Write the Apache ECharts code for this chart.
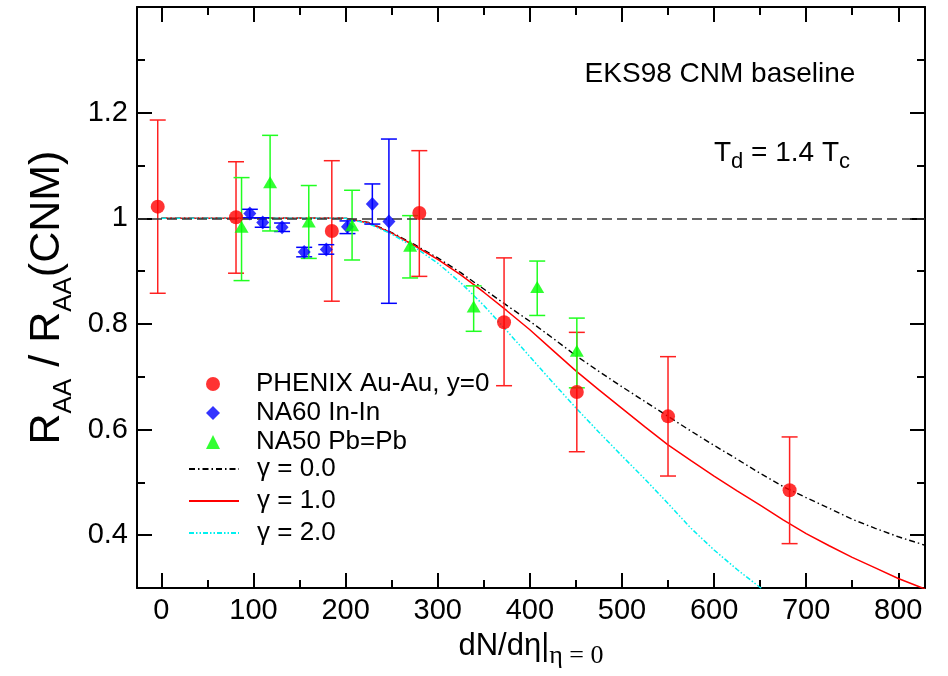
<!DOCTYPE html>
<html><head><meta charset="utf-8">
<script src="https://cdn.jsdelivr.net/npm/echarts@6/dist/echarts.min.js"></script>
<style>html,body{margin:0;padding:0;background:#fff}#c{width:948px;height:676px}</style>
</head><body><div id="c"></div>
<script>
// ---- axis ticks ----
const xTicks = [0, 100, 200, 300, 400, 500, 600, 700, 800];
const xMinorTicks = [50, 150, 250, 350, 450, 550, 650, 750];
const yTicks = [0.4, 0.6, 0.8, 1.0, 1.2];
const yMinorTicks = [0.5, 0.7, 0.9, 1.1, 1.3];

// ---- PHENIX Au-Au, y=0 ----
const phenixX  = [-4, 81, 185, 280, 372, 451, 550, 682];
const phenixY  = [1.022, 1.002, 0.976, 1.010, 0.803, 0.671, 0.625, 0.485];
const phenixLo = [0.858, 0.896, 0.843, 0.890, 0.683, 0.558, 0.512, 0.384];
const phenixHi = [1.186, 1.107, 1.109, 1.128, 0.925, 0.784, 0.738, 0.586];

// ---- NA60 In-In ----
const na60X  = [96, 110, 131, 155, 179, 202, 229, 247];
const na60Y  = [1.009, 0.992, 0.983, 0.936, 0.941, 0.984, 1.027, 0.994];
const na60Lo = [1.001, 0.983, 0.975, 0.927, 0.932, 0.971, 0.989, 0.839];
const na60Hi = [1.017, 1.001, 0.991, 0.945, 0.950, 0.995, 1.065, 1.150];

// ---- NA50 Pb=Pb ----
const na50X  = [87, 118, 160, 207, 270, 339, 408, 451];
const na50Y  = [0.984, 1.068, 0.994, 0.987, 0.948, 0.833, 0.870, 0.749];
const na50Lo = [0.882, 0.976, 0.924, 0.921, 0.887, 0.786, 0.816, 0.679];
const na50Hi = [1.077, 1.157, 1.062, 1.053, 1.005, 0.872, 0.919, 0.811];

// ---- model curves ----
const curveX = [0, 50, 100, 150, 200, 225, 250, 275, 300, 325, 350, 375, 400, 425, 450, 475, 500, 525, 550, 575, 600, 625, 650, 675, 700, 725, 750, 775, 800, 829];
const gamma0 = [1, 1, 1, 1, 1, 0.992, 0.973, 0.950, 0.925, 0.897, 0.866, 0.835, 0.805, 0.773, 0.740, 0.710, 0.681, 0.653, 0.625, 0.597, 0.570, 0.544, 0.517, 0.492, 0.471, 0.451, 0.430, 0.413, 0.397, 0.381];
const gamma1 = [1, 1, 1, 1, 1, 0.991, 0.972, 0.948, 0.922, 0.893, 0.860, 0.825, 0.789, 0.750, 0.711, 0.675, 0.640, 0.605, 0.571, 0.541, 0.512, 0.484, 0.457, 0.429, 0.403, 0.380, 0.358, 0.338, 0.318, 0.298];
const gamma2 = [1, 1, 1, 1, 1, 0.990, 0.970, 0.945, 0.915, 0.878, 0.835, 0.787, 0.738, 0.689, 0.641, 0.595, 0.550, 0.506, 0.460, 0.413, 0.372, 0.335, 0.301, 0.270];
const baselineY = 1;

const xMin = -26.5, xMax = 829, yMin = 0.3, yMax = 1.4;
const FONT = '"Liberation Sans", Arial, sans-serif';
const SERIF = '"Liberation Serif", "Times New Roman", serif';

const zip = (xs, ys) => ys.map((y, i) => [xs[i], y]);
const zip3 = (xs, lo, hi) => xs.map((x, i) => [x, lo[i], hi[i]]);

function errRender(color) {
  return function (params, api) {
    const x = api.value(0), lo = api.value(1), hi = api.value(2);
    const pLo = api.coord([x, lo]), pHi = api.coord([x, hi]);
    const w = 8;
    const st = { stroke: color, lineWidth: 1.5 };
    return { type: 'group', children: [
      { type: 'line', shape: { x1: pLo[0], y1: pLo[1], x2: pHi[0], y2: pHi[1] }, style: st },
      { type: 'line', shape: { x1: pLo[0] - w, y1: pLo[1], x2: pLo[0] + w, y2: pLo[1] }, style: st },
      { type: 'line', shape: { x1: pHi[0] - w, y1: pHi[1], x2: pHi[0] + w, y2: pHi[1] }, style: st }
    ]};
  };
}

const black = '#000';
const tickStyle = { color: black, width: 2 };
function xAxisDef(pos, ticks, len, main) {
  return {
    type: 'value', position: pos, min: xMin, max: xMax,
    axisLine: { show: main, onZero: false, lineStyle: { color: black, width: 2 } },
    axisTick: { show: true, inside: true, length: len, lineStyle: tickStyle, customValues: ticks },
    axisLabel: pos === 'bottom' && main
      ? { show: true, customValues: xTicks, fontSize: 29, color: black, fontFamily: FONT, margin: 8 }
      : { show: false },
    splitLine: { show: false }, minorTick: { show: false }
  };
}
function yAxisDef(pos, ticks, len, main) {
  return {
    type: 'value', position: pos, min: yMin, max: yMax,
    axisLine: { show: main, onZero: false, lineStyle: { color: black, width: 2 } },
    axisTick: { show: true, inside: true, length: len, lineStyle: tickStyle, customValues: ticks },
    axisLabel: pos === 'left' && main
      ? { show: true, customValues: yTicks, fontSize: 29, color: black, fontFamily: FONT, margin: 9 }
      : { show: false },
    splitLine: { show: false }, minorTick: { show: false }
  };
}

const xAxes = [
  xAxisDef('bottom', xTicks, 15, true),
  xAxisDef('bottom', xMinorTicks, 8, false),
  xAxisDef('top', xTicks, 15, true),
  xAxisDef('top', xMinorTicks, 8, false)
];
Object.assign(xAxes[0], {
  name: '{m|dN/dη|}{s|η = 0}', nameLocation: 'middle', nameGap: 35,
  nameTextStyle: { rich: {
    m: { fontSize: 31, fontFamily: FONT, color: black, lineHeight: 46, verticalAlign: 'middle' },
    s: { fontSize: 26, fontFamily: SERIF, color: black, lineHeight: 20, verticalAlign: 'bottom' }
  } }
});
const yAxes = [
  yAxisDef('left', yTicks, 15, true),
  yAxisDef('left', yMinorTicks, 8, false),
  yAxisDef('right', yTicks, 15, true),
  yAxisDef('right', yMinorTicks, 8, false)
];
Object.assign(yAxes[0], {
  name: '{m|R}{s|AA}{m| / R}{s|AA}{m|(CNM)}', nameLocation: 'middle', nameGap: 59, nameRotate: 90,
  nameTextStyle: { rich: {
    m: { fontSize: 43, fontFamily: FONT, color: black, lineHeight: 60, verticalAlign: 'middle' },
    s: { fontSize: 26, fontFamily: FONT, color: black, lineHeight: 30, verticalAlign: 'bottom' }
  } }
});

const legendText = { fontSize: 26, fontFamily: FONT, color: black };

const chart = echarts.init(document.getElementById('c'), null, { renderer: 'canvas' });
chart.setOption({
  animation: false,
  backgroundColor: '#fff',
  grid: { left: 137, right: 23, top: 7, bottom: 88, containLabel: false, outerBoundsMode: 'none' },
  xAxis: xAxes,
  yAxis: yAxes,
  legend: [
    { orient: 'vertical', left: 206, top: 371, padding: 0, itemWidth: 14, itemHeight: 14, itemGap: 3,
      textStyle: Object.assign({ padding: [0, 0, 0, 31] }, legendText),
      data: ['PHENIX Au-Au, y=0', 'NA60 In-In', 'NA50 Pb=Pb'] },
    { orient: 'vertical', left: 188, top: 456, padding: 0, itemWidth: 50, itemHeight: 14, itemGap: 6,
      itemStyle: { opacity: 0 },
      textStyle: Object.assign({ padding: [0, 0, 0, 13] }, legendText),
      data: ['γ = 0.0', 'γ = 1.0', 'γ = 2.0'] }
  ],
  graphic: [
    { type: 'text', x: 720, y: 74, style: { text: 'EKS98 CNM baseline', fontSize: 28, fontFamily: FONT, fill: black, align: 'center', verticalAlign: 'middle' } },
    { type: 'text', x: 714, y: 153, style: {
      text: '{m|T}{s|d}{m| = 1.4 T}{s|c}', align: 'left', verticalAlign: 'middle',
      rich: {
        m: { fontSize: 28, fontFamily: FONT, fill: black, lineHeight: 40, verticalAlign: 'middle' },
        s: { fontSize: 22, fontFamily: FONT, fill: black, lineHeight: 18, verticalAlign: 'bottom' }
      } } }
  ],
  series: [
    { name: 'PHENIX Au-Au, y=0', type: 'scatter', z: 5, symbol: 'circle', symbolSize: 14,
      itemStyle: { color: '#ff0000' }, data: zip(phenixX, phenixY) },
    { name: 'NA60 In-In', type: 'scatter', z: 5, symbol: 'diamond', symbolSize: [13, 14],
      itemStyle: { color: '#0000ff' }, data: zip(na60X, na60Y) },
    { name: 'NA50 Pb=Pb', type: 'scatter', z: 5, symbol: 'triangle', symbolSize: [14, 12],
      itemStyle: { color: '#00ff00' }, data: zip(na50X, na50Y) },
    { name: 'γ = 0.0', type: 'line', z: 3, symbol: 'none', smooth: false,
      lineStyle: { color: '#000', width: 1.4, type: [6, 3, 1.5, 3] }, itemStyle: { color: '#000' },
      data: zip(curveX, gamma0),
      markLine: { silent: true, symbol: 'none', label: { show: false },
        lineStyle: { color: '#333', width: 1.5, type: [10, 5] }, data: [{ yAxis: baselineY }] } },
    { name: 'γ = 1.0', type: 'line', z: 3, symbol: 'none', smooth: false,
      lineStyle: { color: '#ff0000', width: 1.5, type: 'solid' }, itemStyle: { color: '#ff0000' },
      data: zip(curveX, gamma1) },
    { name: 'γ = 2.0', type: 'line', z: 3, symbol: 'none', smooth: false,
      lineStyle: { color: '#00f0f0', width: 1.5, type: [5, 2, 1.5, 2, 1.5, 2] }, itemStyle: { color: '#00f0f0' },
      data: zip(curveX, gamma2) },
    { name: 'PHENIX Au-Au, y=0', type: 'custom', z: 4, renderItem: errRender('#ff2020'),
      encode: { x: 0, y: [1, 2] }, data: zip3(phenixX, phenixLo, phenixHi) },
    { name: 'NA60 In-In', type: 'custom', z: 4, renderItem: errRender('#0000ff'),
      encode: { x: 0, y: [1, 2] }, data: zip3(na60X, na60Lo, na60Hi) },
    { name: 'NA50 Pb=Pb', type: 'custom', z: 4, renderItem: errRender('#20ff20'),
      encode: { x: 0, y: [1, 2] }, data: zip3(na50X, na50Lo, na50Hi) }
  ]
});
</script></body></html>
